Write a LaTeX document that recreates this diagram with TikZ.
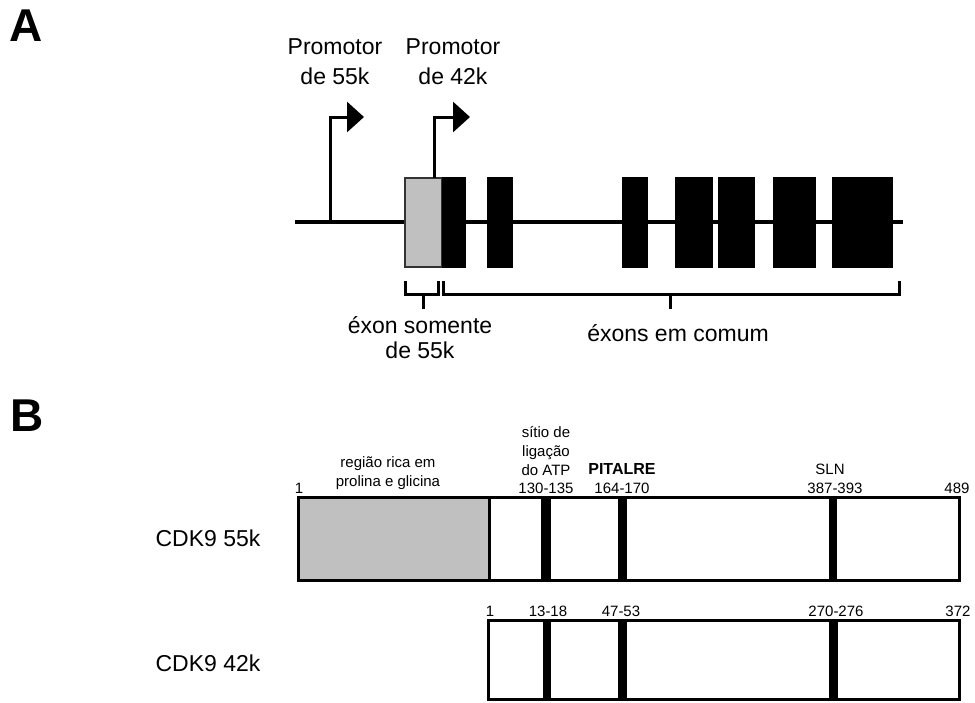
\documentclass[tikz,border=0pt]{standalone}
\usepackage{fontspec}
\setmainfont{Liberation Sans}
\usetikzlibrary{arrows.meta, positioning, calc}

\definecolor{exgrey}{RGB}{192,192,192}

\begin{document}
\begin{tikzpicture}[
  x=0.5pt, y=-0.5pt,
  gene/.style={line width=2pt},
  prom/.style={line width=1.5pt, -{Triangle[length=8.5pt, width=15pt]}},
  brk/.style={line width=1.5pt},
  prot/.style={draw, line width=1.5pt},
  lblA/.style={font=\fontsize{11.5}{15}\selectfont, align=center, inner sep=0pt},
  lblB/.style={font=\fontsize{7.5}{9.5}\selectfont, align=center, inner sep=0pt},
  num/.style={font=\fontsize{7.5}{9.5}\selectfont, anchor=base, inner sep=0pt},
  panel/.style={font=\fontsize{23}{23}\selectfont\bfseries, inner sep=0pt}
  ]
  \useasboundingbox (0,0) rectangle (975,702);

  % panel A: gene
  \node[panel] (pA) at (26,26) {A};
  \coordinate (g0) at (295,222);
  \coordinate (g1) at (903,222);
  \draw[gene] (g0) -- (g1);
  \filldraw[fill=exgrey, draw=black!80, line width=0.75pt] (405,178) rectangle (442,267);
  \foreach \a/\b in {442/466, 487/513, 622/648, 675/713, 718/755, 773/816, 832/893}
    \fill (\a,177) rectangle (\b,268);

  \coordinate (p55) at (330,222);
  \coordinate (p55t) at (364,117);
  \coordinate (p42) at (434,178);
  \coordinate (p42t) at (470,117);
  \draw[prom] (p55) |- (p55t);
  \draw[prom] (p42) |- (p42t);
  \node[lblA] (t55) at (335,62) {Promotor\\de 55k};
  \node[lblA] (t42) at (453,62) {Promotor\\de 42k};

  \coordinate (bL0) at (405,281);
  \coordinate (bL1) at (438,281);
  \coordinate (bR0) at (443,281);
  \coordinate (bR1) at (899,281);
  \draw[brk] (bL0) -- ++(0,13) -| (bL1);
  \draw[brk] (bR0) -- ++(0,13) -| (bR1);
  \node[lblA, font=\fontsize{11.5}{12.5}\selectfont] (only55) at (420,338) {éxon somente\\de 55k};
  \node[lblA] (comum) at (678,333) {éxons em comum};
  \coordinate (sL) at (423,294);
  \coordinate (sR) at (670,294);
  \draw[brk] (sL) -- (sL |- 0,309);
  \draw[brk] (sR) -- (sR |- 0,309);

  % panel B: proteins
  \node[panel] (pB) at (27,416) {B};
  \node[lblA] (cdk55) at (208,538) {CDK9 55k};
  \node[lblA] (cdk42) at (208,663) {CDK9 42k};

  \fill[exgrey] (298,497) rectangle (489,580);
  \draw[prot] (489,497) -- (489,580);
  \foreach \a/\b in {541/551, 618/627, 829/837}
    \fill (\a,497) rectangle (\b,580);
  \draw[prot] (298,497) rectangle (959,580);

  \foreach \a/\b in {543/551, 618/627, 829/838}
    \fill (\a,620) rectangle (\b,699);
  \draw[prot] (488,620) rectangle (959,699);

  \node[lblB] (rich) at (388,473) {região rica em\\prolina e glicina};
  \node[lblB, anchor=base] (atp) at (546,475) {sítio de\\ligação\\do ATP};
  \node[num, font=\fontsize{8}{9.5}\selectfont\bfseries] (pit) at (622,474) {PITALRE};
  \node[num] (sln) at (830,474) {SLN};

  \foreach \x/\t in {299/1, 546/130-135, 622/164-170, 835/387-393, 957/489}
    \node[num] at (\x,493) {\t};
  \foreach \x/\t in {490/1, 548/13-18, 621/47-53, 836/270-276, 958/372}
    \node[num] at (\x,616) {\t};
\end{tikzpicture}
\end{document}
